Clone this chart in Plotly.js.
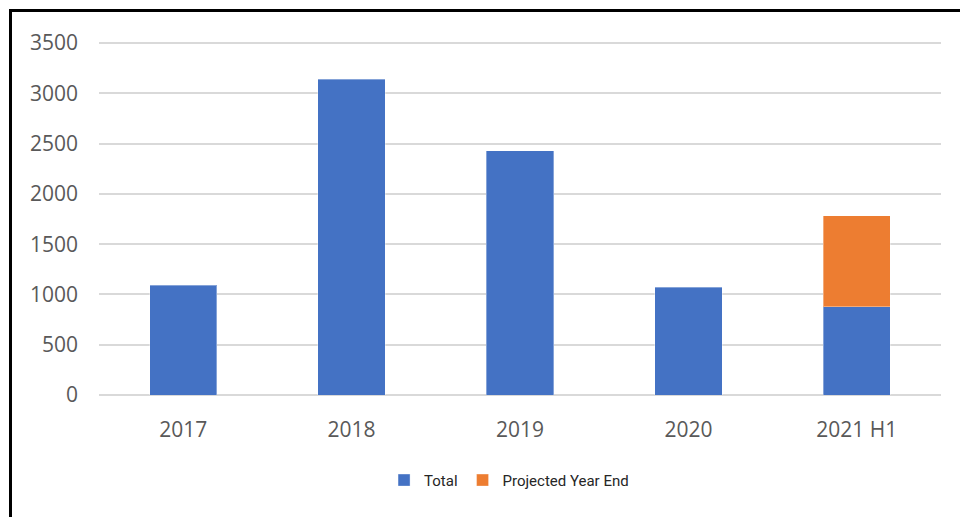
<!DOCTYPE html>
<html>
<head>
<meta charset="utf-8">
<script src="https://cdn.plot.ly/plotly-3.0.1.min.js"></script>
<style>
  html, body { margin: 0; padding: 0; background: #ffffff; overflow: hidden; }
  #wrap { position: relative; width: 960px; height: 517px; overflow: hidden; }
  #chart { position: absolute; left: 0; top: 0; width: 960px; height: 517px; }
  #frame { position: absolute; left: 9px; top: 9px; width: 1000px; height: 600px;
           border-left: 3px solid #000; border-top: 3px solid #000; pointer-events: none; }
</style>
</head>
<body>
<div id="wrap">
  <div id="chart"></div>
  <div id="frame"></div>
</div>
<script>
// Data
const categories = ['2017', '2018', '2019', '2020', '2021 H1'];
const totalValues = [1090, 3140, 2430, 1070, 880];
const projectedValues = [null, null, null, null, 900];
const yTicks = [0, 500, 1000, 1500, 2000, 2500, 3000, 3500];

const traces = [
  {
    type: 'bar', name: 'Total', x: categories, y: totalValues,
    marker: { color: '#4472C4', line: { color: 'rgba(255,255,255,0.35)', width: 1 } },
    hoverinfo: 'x+y'
  },
  {
    type: 'bar', name: 'Projected Year End', x: categories, y: projectedValues,
    marker: { color: '#ED7D31', line: { color: 'rgba(255,255,255,0.35)', width: 1 } },
    hoverinfo: 'x+y'
  }
];

const layout = {
  width: 960, height: 517,
  paper_bgcolor: '#ffffff', plot_bgcolor: '#ffffff',
  margin: { l: 99, r: 19, t: 41, b: 121.5 },
  barmode: 'stack',
  bargap: 0.6,
  showlegend: true,
  legend: {
    orientation: 'h', traceorder: 'normal',
    x: 0.487, xanchor: 'center', y: -0.241, yanchor: 'middle',
    font: { family: 'Roboto, sans-serif', size: 15, color: '#262626' },
    bgcolor: 'rgba(0,0,0,0)'
  },
  xaxis: {
    type: 'category',
    tickfont: { family: '"Open Sans", sans-serif', size: 21, color: '#595959' },
    showgrid: false, showline: false, zeroline: false, ticks: '',
    ticklabelstandoff: 20
  },
  yaxis: {
    range: [0, 3520], tickvals: yTicks, ticktext: yTicks.map(String),
    tickfont: { family: '"Open Sans", sans-serif', size: 21, color: '#595959' },
    showgrid: true, gridcolor: '#d9d9d9', gridwidth: 2,
    zeroline: true, zerolinecolor: '#d9d9d9', zerolinewidth: 2,
    showline: false, ticks: '', ticklabelstandoff: 20
  },
  font: { family: '"Open Sans", sans-serif' }
};

Plotly.newPlot('chart', traces, layout, { displayModeBar: false, staticPlot: true });
</script>
</body>
</html>
